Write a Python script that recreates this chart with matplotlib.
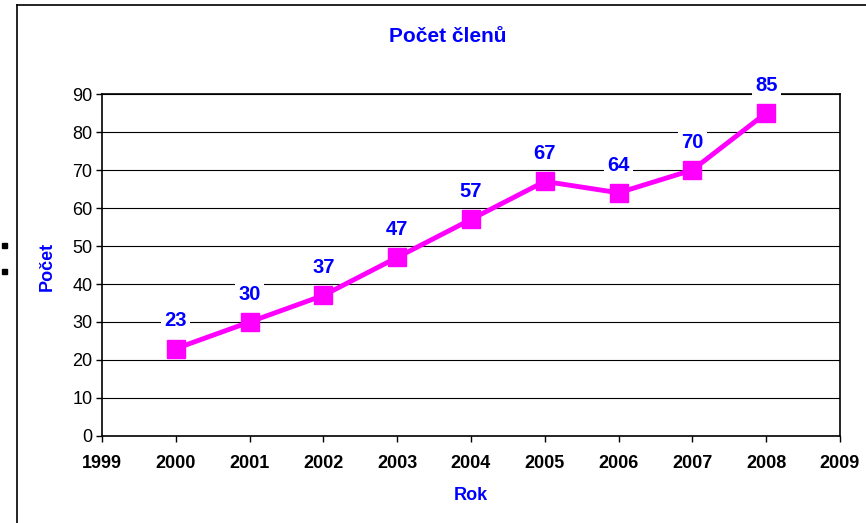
import matplotlib.pyplot as plt
from matplotlib.lines import Line2D
from matplotlib.patches import Rectangle

plt.rcParams['font.family'] = ['Liberation Sans', 'DejaVu Sans']

years = [2000, 2001, 2002, 2003, 2004, 2005, 2006, 2007, 2008]
members = [23, 30, 37, 47, 57, 67, 64, 70, 85]
x_ticks = list(range(1999, 2010))
y_ticks = list(range(0, 100, 10))

blue = '#0000ff'
magenta = '#ff00ff'

W, H = 866, 523
fig = plt.figure(figsize=(W / 100, H / 100), dpi=100)
ax = fig.add_axes([102 / W, 1 - 436 / H, 738 / W, 342 / H])

# outer frame (clipped at right and bottom like the original)
fig.add_artist(Line2D([17 / W, 17 / W], [0, 1 - 5 / H], color='black', lw=1.2))
fig.add_artist(Line2D([17 / W, 1], [1 - 5 / H, 1 - 5 / H], color='black', lw=1.2))

# leftover legend markers
for yy in (245, 271):
    fig.add_artist(Rectangle((2 / W, 1 - (yy + 3) / H), 5 / W, 5 / H,
                             color='black', transform=fig.transFigure))

ax.plot(years, members, color=magenta, lw=3.5, marker='s', markersize=12.5,
        zorder=3, clip_on=False)

for x, v in zip(years, members):
    ax.annotate(str(v), (x, v), xytext=(0, 20), textcoords='offset points',
                ha='center', va='center', color=blue, fontsize=14.5,
                fontweight='bold', zorder=4,
                bbox=dict(facecolor='white', edgecolor='none', pad=2.5))

ax.set_xlim(1999, 2009)
ax.set_ylim(0, 90)
ax.set_xticks(x_ticks)
ax.set_yticks(y_ticks)
ax.grid(axis='y', color='black', lw=0.8)
ax.set_axisbelow(True)
for s in ax.spines.values():
    s.set_linewidth(1.2)
ax.tick_params(axis='both', direction='out', length=4, width=1, colors='black')
ax.tick_params(axis='y', labelsize=13, pad=3)
ax.tick_params(axis='x', labelsize=13, pad=10)
for lbl in ax.get_xticklabels():
    lbl.set_fontweight('bold')

fig.text(448 / W, 1 - 36 / H, 'Počet členů', ha='center', va='center',
         color=blue, fontsize=15, fontweight='bold')
fig.text(47 / W, 1 - 266 / H, 'Počet', ha='center', va='center',
         color=blue, fontsize=13, fontweight='bold', rotation=90)
fig.text(471 / W, 1 - 495 / H, 'Rok', ha='center', va='center',
         color=blue, fontsize=13, fontweight='bold')

fig.savefig('out.png', dpi=100)
